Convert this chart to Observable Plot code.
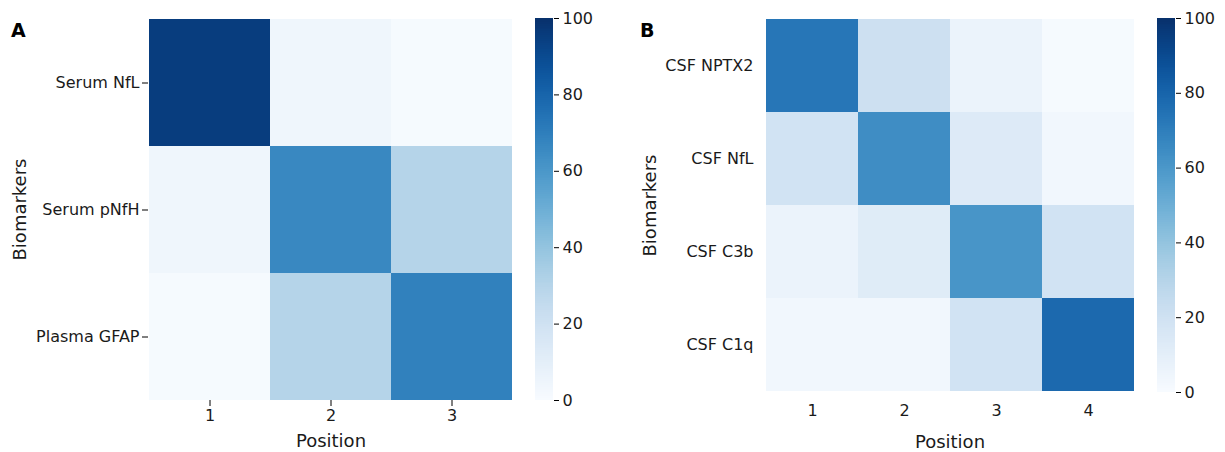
<!DOCTYPE html>
<html>
<head>
<meta charset="utf-8">
<script src="https://cdn.jsdelivr.net/npm/d3@7"></script>
<script src="https://cdn.jsdelivr.net/npm/@observablehq/plot@0.6"></script>
<style>
  body { margin: 0; background: #fff; }
  #root { position: relative; width: 1225px; height: 452px; font-family: "DejaVu Sans", sans-serif; overflow: hidden; }
  #root svg { position: absolute; top: 0; background: transparent; }
  #root svg text { fill: #1a1a1a; }
  #root svg [aria-label$="axis label"] text { font-size: 18px; }
  .tag { position: absolute; font-weight: bold; font-size: 19px; line-height: 19px; color: #000; }
</style>
</head>
<body>
<div id="root"></div>
<script>
// Panel A: serum / plasma biomarkers by position (%)
const positionsA = ["1", "2", "3"];
const markersA = ["Serum NfL", "Serum pNfH", "Plasma GFAP"];
const valuesA = [
  [95, 4, 1],
  [4, 66, 30],
  [1, 30, 69]
];

// Panel B: CSF biomarkers by position (%)
const positionsB = ["1", "2", "3", "4"];
const markersB = ["CSF NPTX2", "CSF NfL", "CSF C3b", "CSF C1q"];
const valuesB = [
  [73, 21, 6, 1],
  [19, 64, 13, 3],
  [6, 12, 61, 19],
  [3, 3, 19, 78]
];

const colorbarTicks = [0, 20, 40, 60, 80, 100];

const root = document.getElementById("root");
const colorScale = {type: "linear", scheme: "blues", domain: [0, 100]};
const font = {fontFamily: "DejaVu Sans, sans-serif", fontSize: "16px", background: "transparent"};

function toTable(markers, positions, values) {
  return markers.flatMap((m, i) => positions.map((p, j) => ({marker: m, position: p, value: values[i][j]})));
}

function heatmap({markers, positions, values, left, width, frameLeft, frameRight, bottom, tickSize, tickPadding, xLabelOffset, yLabelOffset}) {
  const svg = Plot.plot({
    width,
    height: 452,
    marginLeft: frameLeft,
    marginRight: width - frameRight,
    marginTop: 18,
    marginBottom: 452 - bottom,
    style: font,
    x: {domain: positions, padding: 0},
    y: {domain: markers, padding: 0},
    color: colorScale,
    marks: [
      Plot.cell(toTable(markers, positions, values), {x: "position", y: "marker", fill: "value", inset: 0, shapeRendering: "crispEdges"}),
      Plot.axisX({tickSize, tickPadding, label: "Position", labelAnchor: "center", labelOffset: xLabelOffset}),
      Plot.axisY({tickSize, tickPadding, label: "Biomarkers", labelAnchor: "center", labelOffset: yLabelOffset})
    ]
  });
  svg.style.left = left + "px";
  root.appendChild(svg);
}

function colorbar({left, bottom}) {
  const step = 0.5;
  const steps = d3.range(0, 100, step);
  const svg = Plot.plot({
    width: 90,
    height: 452,
    marginLeft: 15,
    marginRight: 90 - 15 - 18,
    marginTop: 18,
    marginBottom: 452 - bottom,
    style: font,
    x: {axis: null, domain: [0, 1]},
    y: {domain: [0, 100]},
    color: colorScale,
    marks: [
      Plot.rect(steps, {x1: () => 0, x2: () => 1, y1: d => d, y2: d => d + step, fill: d => d + step / 2, shapeRendering: "crispEdges"}),
      Plot.axisY({anchor: "right", ticks: colorbarTicks, tickSize: 5, tickPadding: 4, label: null})
    ]
  });
  svg.style.left = left + "px";
  root.appendChild(svg);
}

heatmap({
  markers: markersA, positions: positionsA, values: valuesA,
  left: 0, width: 520, frameLeft: 148, frameRight: 513, bottom: 400,
  tickSize: 6, tickPadding: 3, xLabelOffset: 46, yLabelOffset: 135
});
colorbar({left: 520, bottom: 400});

heatmap({
  markers: markersB, positions: positionsB, values: valuesB,
  left: 620, width: 520, frameLeft: 145, frameRight: 514, bottom: 392,
  tickSize: 0, tickPadding: 12, xLabelOffset: 55, yLabelOffset: 122
});
colorbar({left: 1142, bottom: 392});

for (const [t, x] of [["A", 11], ["B", 640]]) {
  const d = document.createElement("div");
  d.className = "tag";
  d.textContent = t;
  d.style.left = x + "px";
  d.style.top = "21px";
  root.appendChild(d);
}
</script>
</body>
</html>
